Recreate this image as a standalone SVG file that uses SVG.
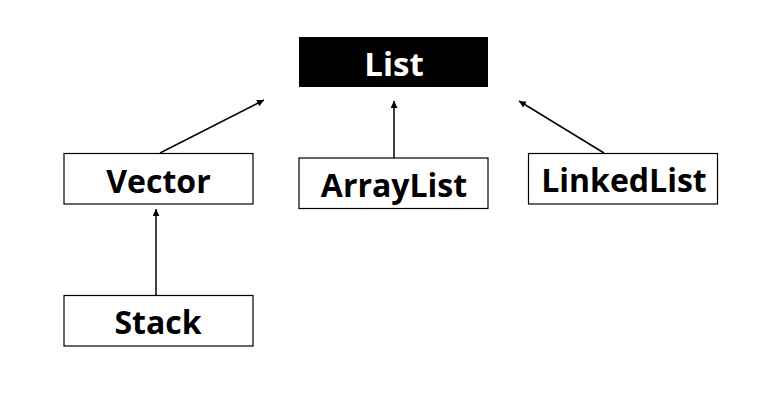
<svg xmlns="http://www.w3.org/2000/svg" width="781" height="404" viewBox="0 0 781 404">
<style>
.box{fill:#fff;stroke:#000;stroke-width:1.2}
.lbl{font-family:"Open Sans","Noto Sans",sans-serif;font-weight:bold;font-size:32px;fill:#000;text-anchor:middle}
.conn{stroke:#000;stroke-width:1.5;fill:none;marker-end:url(#ah)}
</style>
<defs>
<marker id="ah" viewBox="0 0 10 10" refX="10" refY="5" markerWidth="7" markerHeight="7" markerUnits="userSpaceOnUse" orient="auto">
<path d="M0,0 L10,5 L0,10 z" fill="#000"/>
</marker>
</defs>
<rect width="781" height="404" fill="#fff"/>
<g id="connectors">
<line class="conn" x1="160" y1="153" x2="264" y2="100"/>
<line class="conn" x1="394" y1="158" x2="394" y2="101"/>
<line class="conn" x1="604" y1="153" x2="519" y2="101"/>
<line class="conn" x1="156" y1="295" x2="156" y2="209"/>
</g>
<g id="List">
<rect x="299" y="37" width="189" height="50" fill="#000"/>
<text class="lbl" x="394" y="76" style="fill:#fff;font-size:33px">List</text>
</g>
<g id="Vector">
<rect class="box" x="64" y="153.5" width="189" height="50.5"/>
<text class="lbl" x="158.5" y="192.5">Vector</text>
</g>
<g id="ArrayList">
<rect class="box" x="299" y="158" width="189" height="50.5"/>
<text class="lbl" x="394" y="197">ArrayList</text>
</g>
<g id="LinkedList">
<rect class="box" x="528.5" y="153.5" width="189" height="50.5"/>
<text class="lbl" x="624" y="192">LinkedList</text>
</g>
<g id="Stack">
<rect class="box" x="64" y="295.5" width="189" height="50.5"/>
<text class="lbl" x="158" y="334">Stack</text>
</g>
</svg>
